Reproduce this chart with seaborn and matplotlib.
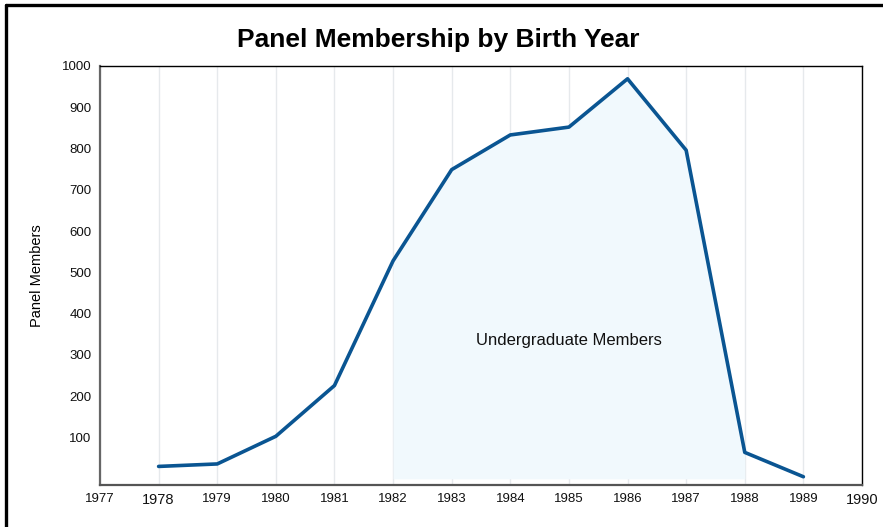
import matplotlib
matplotlib.use("Agg")
import matplotlib.pyplot as plt
import seaborn as sns
import pandas as pd
from matplotlib.lines import Line2D

# values
birth_years = [1978, 1979, 1980, 1981, 1982, 1983, 1984, 1985, 1986, 1987, 1988, 1989]
members = [30, 36, 103, 226, 528, 749, 833, 852, 969, 796, 64, 5]
undergrad_start = 1982
undergrad_end = 1988
x_ticks = list(range(1977, 1991))
y_ticks = [100, 200, 300, 400, 500, 600, 700, 800, 900, 1000]

df = pd.DataFrame({"year": birth_years, "members": members})

sns.set_style("white")
plt.rcParams["font.family"] = ["Liberation Sans", "DejaVu Sans"]
plt.rcParams["text.color"] = "#000000"
plt.rcParams["axes.labelcolor"] = "#000000"

fig = plt.figure(figsize=(8.83, 5.27), dpi=100)
ax = fig.add_axes([100 / 883, 1 - 485 / 527, 762 / 883, 419 / 527])

# vertical grid at each year
for yr in x_ticks:
    ax.axvline(yr, color="#e6e9ec", lw=1, zorder=0)

band = df[(df.year >= undergrad_start) & (df.year <= undergrad_end)]
ax.fill_between(band.year, 0, band.members, color="#f1f9fd", zorder=1, lw=0)

sns.lineplot(data=df, x="year", y="members", ax=ax, color="#0a5592", lw=2.6, zorder=3)

ax.text(1985, 335, "Undergraduate Members", ha="center", va="center", fontsize=12, color="#111111")

ax.set_xlim(1977, 1990)
ax.set_ylim(-15, 1000)
ax.set_xticks(x_ticks)
ax.set_yticks(y_ticks)
ax.tick_params(axis="both", length=0, labelsize=9.5, colors="#111111", pad=6)
for lbl in ax.get_xticklabels():
    if lbl.get_text() in ("1978", "1990"):
        lbl.set_fontsize(10.5)
ax.set_xlabel("")
ax.set_ylabel("Panel Members", fontsize=10.5, labelpad=13)

for side in ("top", "right"):
    ax.spines[side].set_color("#000000")
    ax.spines[side].set_linewidth(1.0)
ax.spines["left"].set_color("#666666")
ax.spines["left"].set_linewidth(1.6)
ax.spines["bottom"].set_color("#555555")
ax.spines["bottom"].set_linewidth(1.6)

fig.text(438 / 883, 1 - 40 / 527, "Panel Membership by Birth Year", ha="center", va="center",
         fontsize=19, fontweight="bold", color="#000000")

# outer frame (top and left edges visible)
fig.add_artist(Line2D([6 / 883, 1], [1 - 5 / 527, 1 - 5 / 527], color="black", lw=2.4, transform=fig.transFigure))
fig.add_artist(Line2D([6 / 883, 6 / 883], [0, 1 - 5 / 527], color="black", lw=2.4, transform=fig.transFigure))

fig.savefig("out.png", dpi=100)
